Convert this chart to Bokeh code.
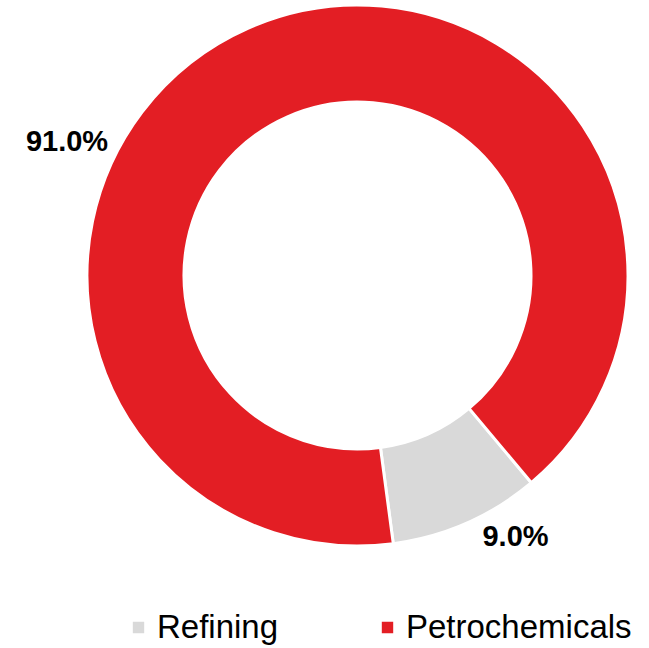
from math import radians
from bokeh.plotting import figure
from bokeh.models import Range1d, Legend, LegendItem, Label, ColumnDataSource
from bokeh.embed import file_html
from bokeh.resources import INLINE

categories = ["Refining", "Petrochemicals"]
values = [9.0, 91.0]
colors = ["#D9D9D9", "#E31E24"]

FIRST_SLICE_DEG = 140  # Excel-style rotation from 12 o'clock, clockwise

W, H = 649, 648
p = figure(width=W, height=H, output_backend="svg", toolbar_location=None,
           x_range=Range1d(0, W), y_range=Range1d(0, H), min_border=0)
p.axis.visible = False
p.grid.visible = False
p.outline_line_color = None
p.background_fill_color = "white"
p.border_fill_color = "white"

cx, cy = 357, 373
r_out, r_in = 270.5, 173.5

total = sum(values)
start = radians(90 - FIRST_SLICE_DEG)
renderers = []
for cat, v, c in zip(categories, values, colors):
    sweep = radians(360 * v / total)
    src = ColumnDataSource(dict(x=[cx], y=[cy], s=[start], e=[start - sweep]))
    r = p.annular_wedge(x="x", y="y", inner_radius=r_in, outer_radius=r_out,
                        start_angle="s", end_angle="e", direction="clock",
                        fill_color=c, line_color="white", line_width=3, source=src)
    renderers.append(r)
    start -= sweep

# data labels
label_pos = {"Refining": (515, 113), "Petrochemicals": (66.5, 508)}
for cat, v in zip(categories, values):
    lx, ly = label_pos[cat]
    p.add_layout(Label(x=lx, y=ly, text=f"{v:.1f}%", text_align="center",
                       text_baseline="middle", text_font="Liberation Sans",
                       text_font_style="bold", text_font_size="29px",
                       text_color="black"))

# legend
legend_x = {"Refining": 129, "Petrochemicals": 378}
for cat, r in zip(categories, renderers):
    lg = Legend(items=[LegendItem(label=cat, renderers=[r])],
                location=(legend_x[cat], 2), orientation="horizontal",
                glyph_width=18, glyph_height=18, label_standoff=10,
                label_text_font="Liberation Sans", label_text_font_size="33px",
                label_text_color="black", label_height=36,
                padding=0, margin=0, spacing=0,
                border_line_alpha=0, background_fill_alpha=0)
    p.add_layout(lg)

open("out.html", "w").write(file_html(p, INLINE))
